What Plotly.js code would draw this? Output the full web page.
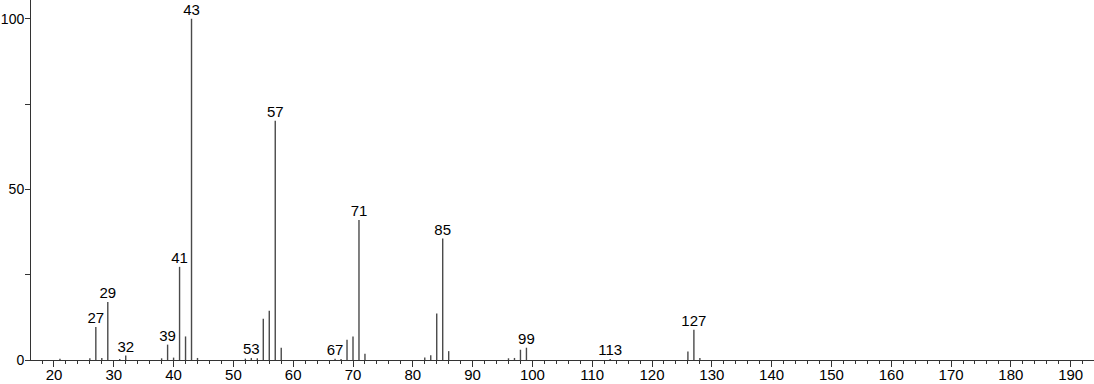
<!DOCTYPE html>
<html>
<head>
<meta charset="utf-8">
<script src="https://cdn.plot.ly/plotly-3.0.1.min.js"></script>
<style>html,body{margin:0;padding:0;background:#fff;}#chart{width:1094px;height:384px;}</style>
</head>
<body>
<div id="chart"></div>
<script>
// m/z values and relative intensities
const mz = [21, 26, 27, 28, 29, 31, 32, 38, 39, 40, 41, 42, 43, 44, 52, 53, 54, 55, 56, 57, 58, 67, 68, 69, 70, 71, 72, 82, 83, 84, 85, 86, 96, 97, 98, 99, 113, 126, 127, 128];
const intensity = [0.4, 0.5, 9.7, 0.6, 17.0, 0.3, 1.3, 0.5, 4.5, 0.7, 27.3, 6.9, 100, 0.6, 0.4, 0.6, 0.5, 12.1, 14.4, 70.1, 3.6, 0.4, 0.3, 5.9, 6.9, 41.0, 1.8, 0.7, 1.4, 13.6, 35.6, 2.6, 0.5, 0.6, 3.0, 3.6, 0.3, 2.5, 8.9, 0.6];
const labeledPeaks = [27, 29, 32, 39, 41, 43, 53, 57, 67, 71, 85, 99, 113, 127];
const xTickVals = [20, 30, 40, 50, 60, 70, 80, 90, 100, 110, 120, 130, 140, 150, 160, 170, 180, 190];
const yTickVals = [0, 50, 100];

const lx = [], ly = [];
mz.forEach((m, i) => { lx.push(m, m, null); ly.push(0, intensity[i], null); });

const labX = [], labY = [], labT = [];
labeledPeaks.forEach(p => {
  const i = mz.indexOf(p);
  labX.push(p); labY.push(intensity[i]); labT.push(String(p));
});

const font = {family: 'Liberation Sans, Arial, sans-serif', size: 15, color: '#000'};
const yfont = {family: 'Liberation Sans, Arial, sans-serif', size: 14, color: '#000'};

Plotly.newPlot('chart', [
  {x: lx, y: ly, type: 'scatter', mode: 'lines', line: {color: '#4a4a4a', width: 1.4}, hoverinfo: 'skip', cliponaxis: false},
  {x: labX, y: labY, type: 'scatter', mode: 'text', text: labT, textposition: 'top center', textfont: font, cliponaxis: false, hoverinfo: 'skip'}
], {
  width: 1094, height: 384,
  margin: {l: 31, r: 0, t: 0, b: 24, pad: 0},
  paper_bgcolor: '#fff', plot_bgcolor: '#fff',
  showlegend: false,
  font: font,
  xaxis: {
    range: [16.16, 193.9], showgrid: false, zeroline: false,
    showline: true, linecolor: '#333', linewidth: 1,
    tickmode: 'array', tickvals: xTickVals, ticks: 'outside', ticklen: 6, tickcolor: '#333', tickwidth: 1,
    ticklabelstandoff: -5,
    minor: {dtick: 2, tick0: 0, ticks: 'outside', ticklen: 3, tickcolor: '#333', tickwidth: 1, showgrid: false},
    tickfont: font, fixedrange: true
  },
  yaxis: {
    range: [0, 105.5], showgrid: false, zeroline: false,
    showline: true, linecolor: '#333', linewidth: 1,
    tickmode: 'array', tickvals: yTickVals, ticks: 'outside', ticklen: 5, tickcolor: '#333', tickwidth: 1,
    ticklabelstandoff: -2,
    minor: {dtick: 25, tick0: 0, ticks: 'outside', ticklen: 5, tickcolor: '#333', tickwidth: 1, showgrid: false},
    tickfont: yfont, fixedrange: true
  }
}, {displayModeBar: false, staticPlot: true});
</script>
</body>
</html>
